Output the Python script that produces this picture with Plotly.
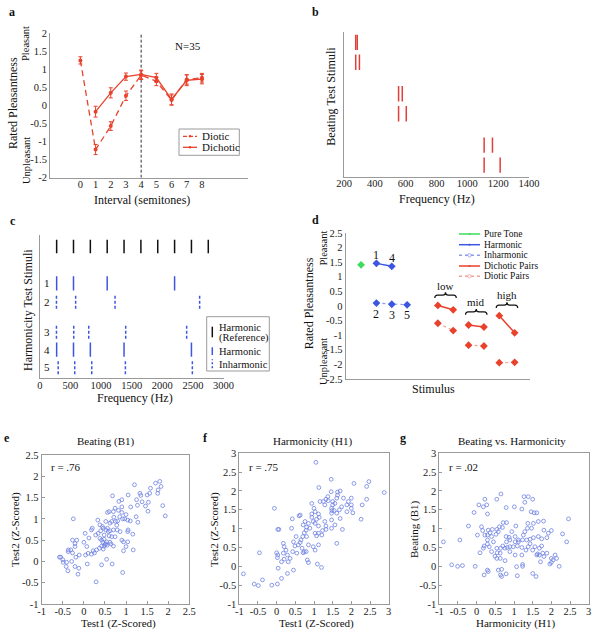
import plotly.graph_objects as go

W, H = 602, 636
def X(p): return p / W
def Y(p): return 1 - p / H

FONT = "Liberation Serif, Times New Roman, serif"
RED = "#e8412c"
PINK = "#f2a09a"
BLUE = "#3d56e0"
LBLUE = "#8d9cf0"
GREEN = "#3edc5c"
SCAT = "#6f82e2"
AXC = "#9a9a9a"

# ---------------- data ----------------
# (a) rated pleasantness vs interval
diotic_interval = [0, 1, 2, 3, 4, 5, 6, 7, 8]
diotic_rating = [1.25, -1.22, -0.57, 0.27, 0.84, 0.67, 0.15, 0.72, 0.77]
diotic_sem = [0.10, 0.14, 0.12, 0.13, 0.12, 0.12, 0.14, 0.13, 0.12]
dichotic_interval = [1, 2, 3, 4, 5, 6, 7, 8]
dichotic_rating = [-0.17, 0.35, 0.80, 0.86, 0.77, 0.17, 0.70, 0.73]
dichotic_sem = [0.15, 0.14, 0.10, 0.12, 0.12, 0.15, 0.15, 0.13]
interval_ticks = [0, 1, 2, 3, 4, 5, 6, 7, 8]

# (b) beating test stimuli (row position, two frequencies)
beat_row = [9.26, 7.89, 5.72, 4.34, 2.18, 0.80]
beat_f1 = [276, 276, 554, 554, 1109, 1109]
beat_f2 = [286, 300, 578, 604, 1163, 1213]

# (c) harmonicity test stimuli
ref_row = 9.19
ref_freqs = [275, 550, 825, 1100, 1375, 1650, 1925, 2200, 2475, 2750]
harm_labels = ["1", "2", "3", "4", "5"]
harm_row = [6.63, 5.35, 3.26, 2.00, 0.79]
harm_is_harmonic = [True, False, False, True, False]
harm_freqs = [
    [275, 550, 1100, 2200],
    [272, 585, 1228, 2609],
    [272, 554, 799, 1402, 2397],
    [275, 550, 825, 1375, 2475],
    [300, 570, 848, 1397, 2490],
]

# (d) rated pleasantness by stimulus
pure_x = [1]
pure_val = [1.41]
harm_x = [2, 3]
harm_val = [1.46, 1.36]
harm_num = ["1", "4"]
inharm_x = [2, 3, 4]
inharm_val = [0.10, 0.06, 0.04]
inharm_num = ["2", "3", "5"]
pair_names = ["low", "mid", "high"]
pair_x = [[6, 7], [8, 9], [10, 11]]
dichotic_pairs = [[0.02, -0.13], [-0.65, -0.72], [-0.33, -0.92]]
diotic_pairs = [[-0.59, -0.84], [-1.34, -1.37], [-1.94, -1.93]]

# (e) Beating (B1): Test1 vs Test2
beating_points = [
    (-0.25, 1.0), (1.2, 1.8), (1.7, 1.84), (1.8, 1.88), (1.83, 1.76), (1.76, 1.68), (1.58, 1.72),
    (1.56, 1.6), (1.75, 1.6), (1.5, 1.56), (1.33, 1.6), (1.05, 1.56), (1.38, 1.4), (1.53, 1.39),
    (1.46, 1.3), (1.52, 1.18), (1.27, 1.32), (1.11, 1.28), (1.24, 1.05), (1.28, 0.92), (1.93, 1.07),
    (1.87, 1.31), (0.68, 1.54), (0.83, 1.41), (0.9, 1.45), (0.9, 1.28), (0.74, 1.25), (0.6, 1.17),
    (0.56, 1.15), (0.7, 1.17), (0.82, 1.2), (0.9, 1.15), (0.97, 1.0), (0.92, 1.0), (1.04, 0.97),
    (1.05, 0.74), (1.04, 0.7), (1.16, 0.64), (0.71, 1.04), (0.75, 0.94), (0.66, 0.94), (0.62, 0.9),
    (0.52, 0.94), (0.33, 0.97), (0.38, 0.86), (0.44, 0.82), (0.46, 0.78), (0.52, 0.74), (0.56, 0.78),
    (0.62, 0.72), (0.7, 0.74), (0.79, 0.74), (0.86, 0.7), (0.74, 0.58), (0.66, 0.58), (0.9, 0.5),
    (0.94, 0.46), (1.04, 0.46), (1.0, 0.35), (0.94, 0.25), (1.17, 0.27), (0.92, -0.26), (0.34, 0.66),
    (0.38, 0.54), (0.42, 0.5), (0.48, 0.52), (0.54, 0.46), (0.52, 0.41), (0.48, 0.36), (0.42, 0.36),
    (0.37, 0.31), (0.3, 0.27), (0.25, 0.2), (0.18, 0.17), (0.1, 0.19), (0.04, 0.15), (0.7, 0.36),
    (0.64, 0.41), (0.46, 0.29), (0.54, 0.05), (0.42, -0.08), (0.67, -0.06), (0.29, -0.48), (0.18, 0.74),
    (0.2, 0.78), (0.03, 0.66), (-0.17, 0.5), (-0.27, 0.5), (-0.21, 0.42), (-0.21, 0.35), (-0.31, 0.27),
    (-0.27, 0.2), (-0.37, 0.27), (-0.37, 0.23), (-0.5, 0.04), (-0.41, -0.02), (-0.55, 0.1), (-0.58, 0.1),
    (-0.49, -0.02), (-0.42, -0.12), (-0.38, -0.22), (-0.29, 0.0), (-0.21, -0.12), (-0.12, -0.16),
    (-0.14, -0.3), (-0.19, 0.1), (-0.11, 0.15), (0.08, -0.06), (0.0, 0.45), (0.07, 0.35), (0.45, 0.45),
    (0.5, 0.4), (0.55, 0.38), (0.6, 0.6), (0.28, 0.62), (0.22, 0.25), (0.12, 0.55), (0.8, 0.95),
    (0.85, 1.05), (1.0, 1.1), (1.1, 0.95), (0.78, 0.85), (0.62, 0.45), (0.58, 0.7), (1.35, 1.55),
    (1.25, 1.45), (0.4, 0.72), (0.48, 0.62),
]

# (f) Harmonicity (H1): Test1 vs Test2
harmonicity_points = [
    (1.05, 2.76), (1.46, 2.31), (1.13, 2.09), (2.07, 2.2), (2.47, 2.25), (2.41, 2.12), (2.88, 1.96),
    (2.41, 1.78), (2.29, 1.63), (1.46, 1.98), (1.63, 1.89), (1.7, 2.0), (1.63, 1.97), (1.61, 1.81),
    (1.37, 1.85), (1.32, 1.78), (1.25, 1.72), (1.16, 1.72), (1.29, 1.63), (1.38, 1.74), (1.5, 1.72),
    (1.5, 1.63), (1.56, 1.67), (1.47, 1.54), (1.54, 1.48), (1.48, 1.48), (1.47, 1.41), (1.61, 1.41),
    (1.7, 1.27), (1.68, 1.5), (1.74, 1.58), (1.79, 1.81), (1.92, 1.72), (2.0, 1.81), (1.88, 1.63),
    (2.0, 1.63), (2.0, 1.54), (1.88, 1.45), (2.04, 1.42), (1.76, 0.98), (1.61, 0.61), (1.47, 1.23),
    (1.56, 1.1), (1.47, 1.01), (2.26, 1.25), (0.94, 1.67), (1.0, 1.54), (1.03, 1.45), (0.94, 1.39),
    (1.12, 1.39), (1.14, 1.3), (1.07, 1.25), (0.98, 1.19), (1.03, 1.14), (1.12, 1.07), (1.29, 1.19),
    (1.32, 1.07), (1.32, 0.98), (1.23, 0.95), (1.21, 0.83), (1.12, 0.88), (1.03, 0.88), (1.07, 0.81),
    (0.89, 1.01), (0.8, 1.04), (0.71, 1.1), (0.63, 1.36), (0.6, 1.34), (0.94, 1.3), (0.76, 1.19),
    (0.85, 1.14), (0.79, 0.96), (0.8, 0.79), (0.7, 0.79), (0.74, 0.89), (0.65, 0.7), (0.58, 0.57),
    (0.49, 0.54), (0.45, 0.65), (0.52, 0.79), (0.63, 0.63), (0.43, 0.39), (0.54, 0.35), (0.71, 0.36),
    (0.79, 0.39), (1.03, 0.43), (0.98, 0.52), (1.12, 0.57), (0.85, 0.57), (0.68, 0.48), (0.74, 0.39),
    (1.09, 0.06), (1.2, -0.03), (0.85, 0.1), (0.82, 0.17), (0.4, 1.01), (0.42, 1.26), (0.18, 0.61),
    (0.2, 0.52), (0.25, 0.43), (0.18, 0.35), (0.29, 0.3), (0.36, 0.21), (0.31, 0.12), (0.2, 0.19),
    (0.13, 0.12), (0.03, 0.3), (0.0, 0.36), (0.02, 0.23), (0.04, -0.05), (0.13, -0.32), (0.45, -0.1),
    (0.29, -0.19), (-0.06, 1.54), (0.03, 0.98), (0.06, 0.98), (0.02, -0.47), (-0.13, -0.5),
    (-0.38, -0.36), (-0.6, -0.47), (-0.49, -0.51), (-0.46, 0.36), (-0.89, -0.2),
]

# (g) Beating vs Harmonicity
bh_points = [
    (0.65, 1.92), (0.54, 1.78), (0.22, 1.78), (0.27, 1.63), (0.06, 1.63), (0.18, 1.58), (-0.07, 1.43),
    (0.29, 1.39), (0.79, 1.56), (1.01, 1.58), (1.21, 1.52), (1.27, 1.85), (1.38, 1.85), (1.5, 1.78),
    (1.29, 1.7), (1.46, 1.45), (1.54, 1.42), (1.61, 1.42), (-0.22, 1.07), (-0.45, 0.7), (-0.89, 0.65),
    (-0.67, 0.04), (-0.51, 0.0), (-0.38, 0.02), (-0.04, 0.0), (0.02, 0.83), (0.13, 1.05), (0.16, 0.95),
    (0.22, 0.83), (0.29, 0.83), (0.36, 0.89), (0.31, 0.96), (0.42, 0.98), (0.54, 0.98), (0.61, 1.05),
    (0.69, 1.03), (0.71, 1.16), (0.8, 1.16), (0.58, 0.92), (0.52, 0.85), (0.4, 0.79), (0.29, 0.7),
    (0.2, 0.54), (0.18, 0.48), (0.34, 0.52), (0.4, 0.39), (0.54, 0.48), (0.55, 0.36), (0.49, 0.27),
    (0.54, 0.21), (0.64, 0.48), (0.7, 0.54), (0.8, 0.65), (0.79, 0.79), (0.87, 0.77), (0.89, 0.7),
    (0.94, 0.92), (1.05, 1.07), (1.03, 0.79), (1.03, 0.65), (1.12, 0.7), (1.12, 0.65), (1.09, 0.54),
    (0.98, 0.52), (0.89, 0.52), (0.82, 0.5), (0.76, 0.48), (0.89, 0.39), (1.03, 0.3), (1.21, 0.5),
    (1.23, 0.7), (1.25, 0.83), (1.29, 0.92), (1.36, 1.01), (1.47, 1.01), (1.37, 1.14), (1.52, 1.14),
    (1.65, 1.19), (1.79, 1.2), (1.8, 0.96), (1.92, 0.88), (2.0, 0.95), (1.88, 0.76), (1.74, 0.73),
    (1.65, 0.79), (1.52, 0.76), (1.43, 0.72), (1.34, 0.7), (1.43, 0.6), (1.38, 0.52), (1.32, 0.43),
    (1.5, 0.43), (1.56, 0.52), (1.68, 0.48), (1.74, 0.54), (1.63, 0.33), (1.68, 0.3), (1.8, 0.26),
    (1.77, 0.35), (1.88, 0.35), (2.0, 0.21), (2.05, 0.17), (2.1, 0.3), (2.14, 0.21), (2.0, 0.1),
    (1.96, 0.06), (2.21, 0.0), (2.3, 0.86), (2.41, 0.65), (2.46, 1.26), (0.63, 0.35), (0.63, 0.21),
    (0.76, 0.15), (0.67, -0.08), (0.58, -0.1), (0.64, -0.23), (0.67, -0.27), (0.79, -0.2), (0.29, -0.1),
    (0.31, -0.14), (0.2, -0.23), (1.21, 0.3), (1.23, 0.05), (1.07, -0.01), (1.09, -0.25), (1.23, 0.0),
    (1.5, -0.19), (1.59, -0.27), (1.61, 0.3), (1.71, 0.12), (0.29, 0.59), (0.09, 0.36), (0.45, 0.65),
]
r_values = [".76", ".75", ".02"]

# ---------------- helpers ----------------
def segs(freqs, center, half):
    xs, ys = [], []
    for f in freqs:
        xs += [f, f, None]
        ys += [center - half, center + half, None]
    return xs, ys

def tick_arr(vals):
    return dict(tickmode="array", tickvals=vals, ticktext=[f"{v:g}" for v in vals])

def steps(lo, hi, st):
    n = int(round((hi - lo) / st))
    return [round(lo + i * st, 3) for i in range(n + 1)]

fig = go.Figure()

# ---------------- (a) ----------------
fig.add_trace(go.Scatter(
    x=diotic_interval, y=diotic_rating, xaxis="x", yaxis="y", mode="lines+markers",
    line=dict(color=RED, width=1.3, dash="6px,4px"), marker=dict(color=RED, size=4),
    error_y=dict(type="data", array=diotic_sem, color=RED, thickness=1, width=2)))
fig.add_trace(go.Scatter(
    x=dichotic_interval, y=dichotic_rating, xaxis="x", yaxis="y", mode="lines+markers",
    line=dict(color=RED, width=1.3), marker=dict(color=RED, size=4),
    error_y=dict(type="data", array=dichotic_sem, color=RED, thickness=1, width=2)))

# ---------------- (b) ----------------
bx, by = [], []
for r, f1, f2 in zip(beat_row, beat_f1, beat_f2):
    xs, ys = segs([f1, f2], r, 0.53)
    bx += xs; by += ys
fig.add_trace(go.Scatter(x=bx, y=by, xaxis="x2", yaxis="y2", mode="lines",
                         line=dict(color="#e0403a", width=1.5)))

# ---------------- (c) ----------------
rx, ry = segs(ref_freqs, ref_row, 0.47)
fig.add_trace(go.Scatter(x=rx, y=ry, xaxis="x3", yaxis="y3", mode="lines",
                         line=dict(color="#111111", width=1.5)))
for pos, freqs, harmonic in zip(harm_row, harm_freqs, harm_is_harmonic):
    xs, ys = segs(freqs, pos, 0.5)
    fig.add_trace(go.Scatter(x=xs, y=ys, xaxis="x3", yaxis="y3", mode="lines",
                             line=dict(color=BLUE, width=1.5, dash="solid" if harmonic else "3px,2px")))

# ---------------- (d) ----------------
fig.add_trace(go.Scatter(x=pure_x, y=pure_val, xaxis="x4", yaxis="y4", mode="markers",
                         marker=dict(color=GREEN, size=6, symbol="diamond")))
fig.add_trace(go.Scatter(x=harm_x, y=harm_val, xaxis="x4", yaxis="y4", mode="lines+markers",
                         line=dict(color=BLUE, width=1.5), marker=dict(color=BLUE, size=6, symbol="diamond")))
fig.add_trace(go.Scatter(x=inharm_x, y=inharm_val, xaxis="x4", yaxis="y4", mode="lines+markers",
                         line=dict(color=LBLUE, width=1.2, dash="dot"),
                         marker=dict(color=BLUE, size=6, symbol="diamond")))
dx, dy, ox, oy = [], [], [], []
for xs, v1, v2 in zip(pair_x, dichotic_pairs, diotic_pairs):
    dx += xs + [None]; dy += v1 + [None]
    ox += xs + [None]; oy += v2 + [None]
fig.add_trace(go.Scatter(x=ox, y=oy, xaxis="x4", yaxis="y4", mode="lines+markers",
                         line=dict(color=PINK, width=1.2, dash="dot"),
                         marker=dict(color=RED, size=6, symbol="diamond")))
fig.add_trace(go.Scatter(x=dx, y=dy, xaxis="x4", yaxis="y4", mode="lines+markers",
                         line=dict(color=RED, width=1.5),
                         marker=dict(color=RED, size=6, symbol="diamond")))

# ---------------- (e,f,g) ----------------
for pts, xa, ya in [(beating_points, "x5", "y5"), (harmonicity_points, "x6", "y6"), (bh_points, "x7", "y7")]:
    fig.add_trace(go.Scatter(x=[p[0] for p in pts], y=[p[1] for p in pts], xaxis=xa, yaxis=ya,
                             mode="markers",
                             marker=dict(symbol="circle-open", size=3.8, color=SCAT, line=dict(width=0.8))))

# ---------------- axes ----------------
TF = dict(family=FONT, size=10.5, color="#222")

def axis(dom, rng, **kw):
    d = dict(domain=dom, range=rng, showgrid=False, zeroline=False, showline=True,
             linecolor=AXC, linewidth=1, ticks="", tickfont=TF, fixedrange=True, automargin=False)
    d.update(kw)
    return d

box_kw = dict(mirror=True, ticks="inside", ticklen=3, tickcolor=AXC)
XS = dict(ticklabelstandoff=-3)

layout_axes = dict(
    xaxis=axis([X(50), X(247.5)], [-2, 11], anchor="y", **tick_arr(interval_ticks), **XS),
    yaxis=axis([Y(177.7), Y(33.3)], [-2, 2], anchor="x", **tick_arr(steps(-2, 2, 0.5))),
    xaxis2=axis([X(344), X(529)], [200, 1400], anchor="y2", **tick_arr(steps(200, 1400, 200)), **XS),
    yaxis2=axis([Y(176.7), Y(31.7)], [0, 10], anchor="x2", showticklabels=False),
    xaxis3=axis([X(39.8), X(223.6)], [0, 3000], anchor="y3", **tick_arr(steps(0, 3000, 500)), **XS),
    yaxis3=axis([Y(378.3), Y(235)], [0, 10], anchor="x3", showticklabels=False),
    xaxis4=axis([X(345.7), X(530)], [0, 12], anchor="y4", showticklabels=False),
    yaxis4=axis([Y(379), Y(233)], [-2.5, 2.5], anchor="x4", **tick_arr(steps(-2.5, 2.5, 0.5))),
    xaxis5=axis([X(41.7), X(189.3)], [-1, 2.5], anchor="y5", **tick_arr(steps(-1, 2.5, 0.5)), **box_kw, **XS),
    yaxis5=axis([Y(604), Y(455)], [-1, 2.5], anchor="x5", **tick_arr(steps(-1, 2.5, 0.5)), **box_kw),
    xaxis6=axis([X(239.3), X(388.7)], [-1, 3], anchor="y6", **tick_arr(steps(-1, 3, 0.5)), **box_kw, **XS),
    yaxis6=axis([Y(604), Y(453.3)], [-1, 3], anchor="x6", **tick_arr(steps(-1, 3, 0.5)), **box_kw),
    xaxis7=axis([X(439.3), X(588.7)], [-1, 3], anchor="y7", **tick_arr(steps(-1, 3, 0.5)), **box_kw, **XS),
    yaxis7=axis([Y(604), Y(453.3)], [-1, 3], anchor="x7", **tick_arr(steps(-1, 3, 0.5)), **box_kw),
)

# ---------------- annotations ----------------
anns = []
def A(text, x, y, size=11.5, angle=0, xanchor="center", bold=False, xref="paper", yref="paper", color="#111"):
    if bold:
        text = f"<b>{text}</b>"
    if xref == "paper":
        x = X(x)
    if yref == "paper":
        y = Y(y)
    anns.append(dict(text=text, x=x, y=y, xref=xref, yref=yref, showarrow=False, textangle=angle,
                     xanchor=xanchor, yanchor="middle", font=dict(family=FONT, size=size, color=color)))

# panel letters
for t, x, y in [("a", 12, 12), ("b", 315, 12), ("c", 13, 221), ("d", 315, 220),
                ("e", 7, 438), ("f", 205, 438), ("g", 403, 438)]:
    A(t, x, y, size=12, bold=True)

# (a)
A("Interval (semitones)", 141.7, 200, size=12)
A("Rated Pleasantness", 13, 103, size=12, angle=-90)
A("Pleasant", 26, 44, size=10.5, angle=-90)
A("Unpleasant", 26, 161, size=10.5, angle=-90)
A("N=35", 187.7, 45.7, size=11)
A("Diotic", 200, 136.3, size=11, xanchor="left")
A("Dichotic", 200, 147.3, size=11, xanchor="left")

# (b)
A("Frequency (Hz)", 436.7, 199, size=12)
A("Beating Test Stimuli", 331, 96.7, size=12, angle=-90)

# (c)
A("Frequency (Hz)", 135, 398.3, size=12)
A("Harmonicity Test Stimuli", 28, 310, size=12, angle=-90)
for lab, pos in zip(harm_labels, harm_row):
    A(lab, 110, pos, size=11, xref="x3", yref="y3")
A("Harmonic", 217.3, 327.3, size=10.5, xanchor="left")
A("(Reference)", 217.3, 337.6, size=10.5, xanchor="left")
A("Harmonic", 217.3, 351, size=10.5, xanchor="left")
A("Inharmonic", 217.3, 364, size=10.5, xanchor="left")

# (d)
A("Stimulus", 433, 389, size=12)
A("Rated Pleasantness", 309.3, 303, size=12, angle=-90)
A("Pleasant", 323.3, 248.3, size=10.5, angle=-90)
A("Unpleasant", 323.3, 361.7, size=10.5, angle=-90)
for lab, xv, yv in zip(harm_num, harm_x, harm_val):
    A(lab, xv, yv + 0.3, size=12, xref="x4", yref="y4")
for lab, xv, yv in zip(inharm_num, inharm_x, inharm_val):
    A(lab, xv, yv - 0.36, size=12, xref="x4", yref="y4")
label_y = [0.69, 0.13, 0.38]
brace_y = [(0.27, 0.47), (-0.3, -0.1), (-0.07, 0.13)]
for name, xs, ly in zip(pair_names, pair_x, label_y):
    A(name, (xs[0] + xs[1]) / 2, ly, size=11, xref="x4", yref="y4")
leg_d = [("Pure Tone", GREEN, "solid"), ("Harmonic", BLUE, "solid"), ("Inharmonic", LBLUE, "dot"),
         ("Dichotic Pairs", RED, "solid"), ("Diotic Pairs", PINK, "dot")]
leg_d_y = [234, 244.7, 255.3, 266, 276.3]
for (name, col, dash), yy in zip(leg_d, leg_d_y):
    A(name, 482, yy, size=9.5, xanchor="left")

# (e,f,g)
A("Beating (B1)", 106, 441, size=11)
A("Harmonicity (H1)", 312, 441, size=11)
A("Beating vs. Harmonicity", 512, 441, size=11)
A("Test1 (Z-Scored)", 118, 623, size=11)
A("Test1 (Z-Scored)", 317, 623, size=11)
A("Harmonicity (H1)", 515, 623, size=11)
A("Test2 (Z-Scored)", 15, 530, size=11, angle=-90)
A("Test2 (Z-Scored)", 214, 530, size=11, angle=-90)
A("Beating (B1)", 414, 530, size=11, angle=-90)
for rv, xl in zip(r_values, [49, 247, 447]):
    A(f"r = {rv}", xl, 467, size=11, xanchor="left")

# ---------------- shapes ----------------
shapes = []
# (a) vertical dashed line at interval 4
shapes.append(dict(type="line", xref="x", yref="y", x0=4, x1=4, y0=-2, y1=2,
                   line=dict(color="#333", width=1, dash="3px,2px"), layer="below"))
# (a) legend
shapes.append(dict(type="rect", xref="paper", yref="paper", x0=X(179), x1=X(239.3), y0=Y(155.3), y1=Y(129),
                   line=dict(color=AXC, width=1), fillcolor="white"))
shapes.append(dict(type="line", xref="paper", yref="paper", x0=X(183), x1=X(197), y0=Y(136.3), y1=Y(136.3),
                   line=dict(color=RED, width=1.3, dash="4px,2px")))
shapes.append(dict(type="line", xref="paper", yref="paper", x0=X(183), x1=X(197), y0=Y(147.3), y1=Y(147.3),
                   line=dict(color=RED, width=1.3)))
for yy in (136.3, 147.3):
    shapes.append(dict(type="circle", xref="paper", yref="paper", x0=X(188.8), x1=X(191.2),
                       y0=Y(yy + 1.2), y1=Y(yy - 1.2), fillcolor=RED, line=dict(color=RED, width=0)))
# (c) legend
shapes.append(dict(type="rect", xref="paper", yref="paper", x0=X(206.7), x1=X(269.3), y0=Y(371), y1=Y(316.7),
                   line=dict(color=AXC, width=1), fillcolor="white"))
shapes.append(dict(type="line", xref="paper", yref="paper", x0=X(212.3), x1=X(212.3), y0=Y(337.3), y1=Y(326.7),
                   line=dict(color="#111", width=1.5)))
shapes.append(dict(type="line", xref="paper", yref="paper", x0=X(212.3), x1=X(212.3), y0=Y(355), y1=Y(347.3),
                   line=dict(color=BLUE, width=1.5)))
shapes.append(dict(type="line", xref="paper", yref="paper", x0=X(212.3), x1=X(212.3), y0=Y(368.3), y1=Y(359.3),
                   line=dict(color=BLUE, width=1.5, dash="2px,2px")))
# (d) legend symbols
for (name, col, dash), yy in zip(leg_d, leg_d_y):
    shapes.append(dict(type="line", xref="paper", yref="paper", x0=X(459), x1=X(480), y0=Y(yy), y1=Y(yy),
                       line=dict(color=col, width=1.5, dash=dash)))
    if dash == "dot":
        shapes.append(dict(type="circle", xref="paper", yref="paper", x0=X(467.8), x1=X(471.2),
                           y0=Y(yy + 1.7), y1=Y(yy - 1.7), line=dict(color=col, width=0.8)))
    else:
        shapes.append(dict(type="circle", xref="paper", yref="paper", x0=X(468.5), x1=X(470.5),
                           y0=Y(yy + 1), y1=Y(yy - 1), fillcolor=col, line=dict(color=col, width=0)))
# (d) braces
for xs, (yb, yt) in zip(pair_x, brace_y):
    xa, xb = xs[0] - 0.2, xs[1] + 0.2
    xm = (xa + xb) / 2
    ym = (yb + yt) / 2
    e = 0.18
    path = (f"M {xa},{yb} Q {xa},{ym} {xa+e},{ym} L {xm-e},{ym} Q {xm},{ym} {xm},{yt} "
            f"Q {xm},{ym} {xm+e},{ym} L {xb-e},{ym} Q {xb},{ym} {xb},{yb}")
    shapes.append(dict(type="path", xref="x4", yref="y4", path=path, line=dict(color="#111", width=1.2)))

fig.update_layout(
    template="none",
    width=W, height=H, margin=dict(l=0, r=0, t=0, b=0, pad=0, autoexpand=False),
    paper_bgcolor="white", plot_bgcolor="white", showlegend=False,
    font=dict(family=FONT, color="#111"),
    annotations=anns, shapes=shapes, **layout_axes)

fig.write_html("out.html", config={"displayModeBar": False},
               post_script="document.body.style.margin='0';document.body.style.overflow='hidden';")
